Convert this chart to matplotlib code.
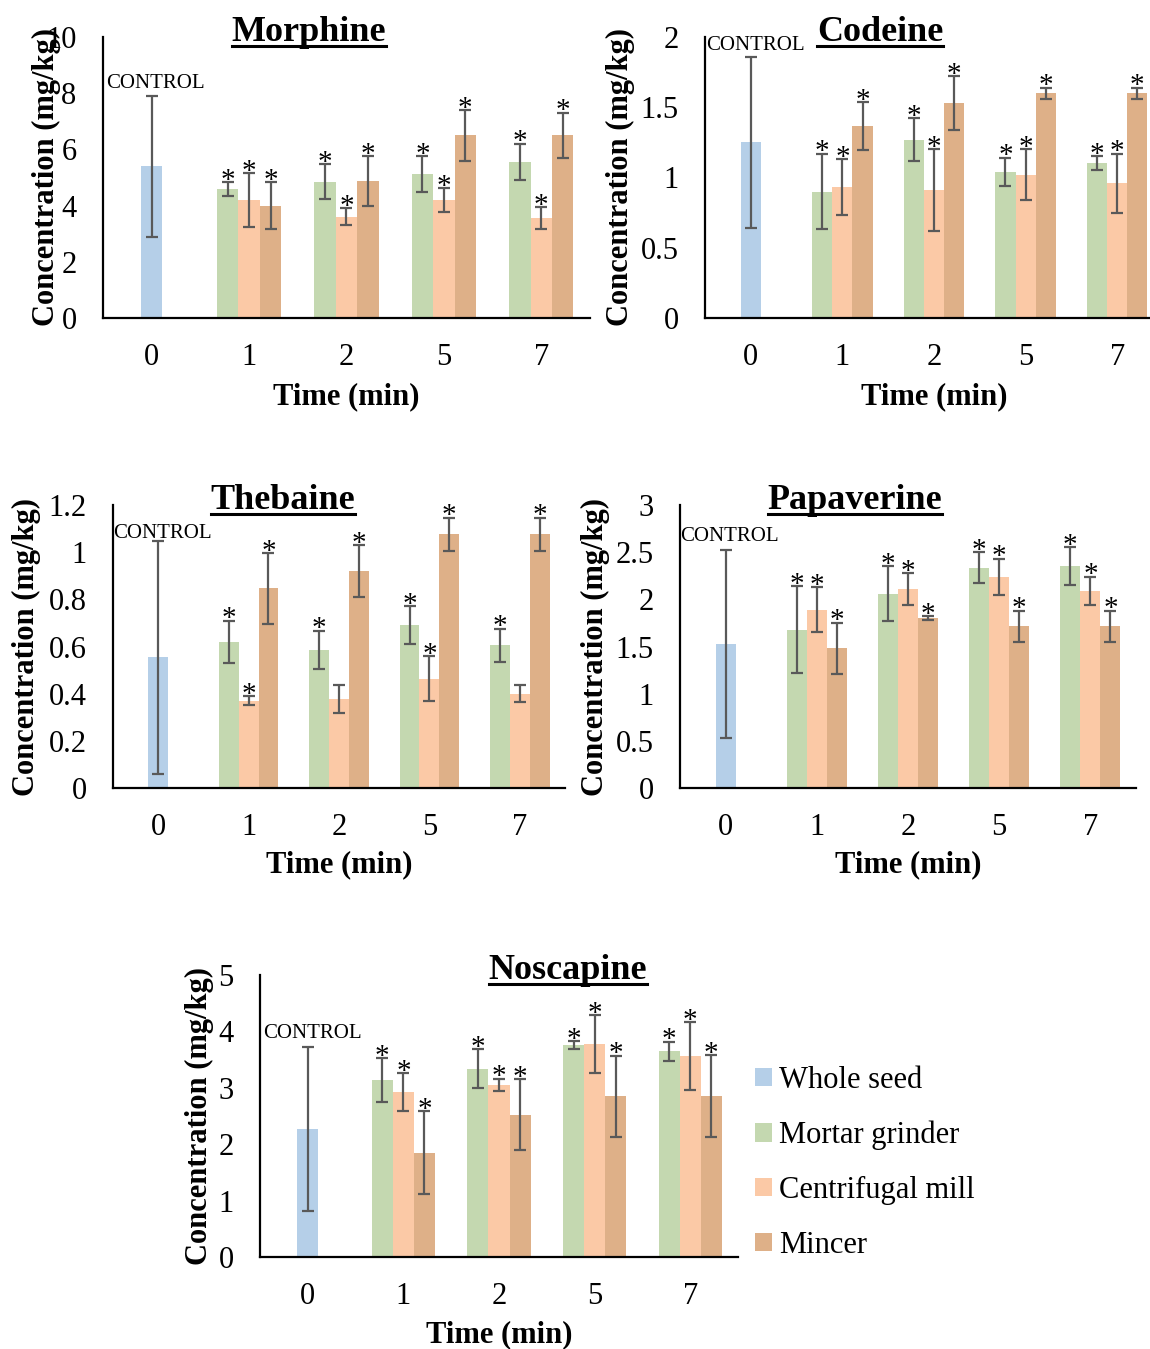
import numpy as np
import matplotlib.pyplot as plt
from matplotlib.patches import Patch
from matplotlib.lines import Line2D

plt.rcParams['font.family'] = ['Liberation Serif', 'DejaVu Serif']

# ---- data (mg/kg) ----
times = ["0", "1", "2", "5", "7"]
series = ["Whole seed", "Mortar grinder", "Centrifugal mill", "Mincer"]

morphine_control, morphine_control_err = 5.40, 2.50
morphine_mortar = [4.59, 4.85, 5.12, 5.56]
morphine_mortar_err = [0.25, 0.63, 0.64, 0.64]
morphine_centrifugal = [4.19, 3.61, 4.20, 3.55]
morphine_centrifugal_err = [0.96, 0.30, 0.41, 0.39]
morphine_mincer = [3.99, 4.88, 6.50, 6.50]
morphine_mincer_err = [0.84, 0.88, 0.90, 0.80]

codeine_control, codeine_control_err = 1.25, 0.61
codeine_mortar = [0.90, 1.27, 1.04, 1.10]
codeine_mortar_err = [0.27, 0.15, 0.10, 0.05]
codeine_centrifugal = [0.93, 0.91, 1.02, 0.96]
codeine_centrifugal_err = [0.20, 0.29, 0.18, 0.21]
codeine_mincer = [1.365, 1.53, 1.60, 1.60]
codeine_mincer_err = [0.17, 0.19, 0.04, 0.04]

thebaine_control, thebaine_control_err = 0.554, 0.495
thebaine_mortar = [0.620, 0.586, 0.690, 0.606]
thebaine_mortar_err = [0.09, 0.08, 0.08, 0.07]
thebaine_centrifugal = [0.370, 0.377, 0.463, 0.400]
thebaine_centrifugal_err = [0.02, 0.06, 0.095, 0.035]
thebaine_mincer = [0.846, 0.920, 1.076, 1.076]
thebaine_mincer_err = [0.15, 0.11, 0.07, 0.07]

papaverine_control, papaverine_control_err = 1.525, 1.00
papaverine_mortar = [1.68, 2.06, 2.335, 2.35]
papaverine_mortar_err = [0.46, 0.29, 0.165, 0.20]
papaverine_centrifugal = [1.89, 2.105, 2.24, 2.09]
papaverine_centrifugal_err = [0.24, 0.17, 0.19, 0.15]
papaverine_mincer = [1.48, 1.80, 1.715, 1.715]
papaverine_mincer_err = [0.27, 0.02, 0.165, 0.165]

noscapine_control, noscapine_control_err = 2.27, 1.46
noscapine_mortar = [3.13, 3.34, 3.76, 3.65]
noscapine_mortar_err = [0.39, 0.34, 0.07, 0.17]
noscapine_centrifugal = [2.92, 3.05, 3.78, 3.56]
noscapine_centrifugal_err = [0.34, 0.11, 0.51, 0.60]
noscapine_mincer = [1.85, 2.52, 2.85, 2.85]
noscapine_mincer_err = [0.73, 0.63, 0.72, 0.73]

# significance marks (mortar, centrifugal, mincer) x (1, 2, 5, 7 min)
all_stars = [[True] * 4, [True] * 4, [True] * 4]
thebaine_stars = [[True] * 4, [True, False, True, False], [True] * 4]

# ---- style ----
colors = ["#B5CFE8", "#C4D8B0", "#FBC9A6", "#DEB088"]
err_kw = dict(ecolor="#595959", elinewidth=1.6, capsize=4.5, capthick=1.6)
bw = 0.22

W, H = 1150, 1349
fig = plt.figure(figsize=(W / 100, H / 100), dpi=100)

titles = []


def panel(box, name, control, control_err, vals, errs, stars, ymax, ystep,
          title_x, control_y, ylabel_x, xlabel_y):
    l, t, r, b = box
    ax = fig.add_axes([l / W, 1 - b / H, (r - l) / W, (b - t) / H])
    x = np.arange(len(times))
    ax.bar(x[0], control, bw, color=colors[0], yerr=control_err, error_kw=err_kw)
    offs = [-bw, 0, bw]
    for k in range(3):
        ax.bar(x[1:] + offs[k], vals[k], bw, color=colors[k + 1], yerr=errs[k], error_kw=err_kw)
        for i in range(4):
            if stars[k][i]:
                ax.annotate("*", (x[i + 1] + offs[k], vals[k][i] + errs[k][i]),
                            xytext=(0, -4), textcoords="offset points",
                            ha="center", va="baseline", fontsize=21)
    ax.annotate("CONTROL", (0, control_y), xytext=(3, 0), textcoords="offset points",
                ha="center", va="center", fontsize=15)

    ax.set_xlim(-0.5, 4.5)
    ax.set_ylim(0, ymax)
    ticks = np.arange(0, ymax + ystep / 2, ystep)
    ax.set_yticks(ticks)
    ax.set_yticklabels(["{:g}".format(round(v, 2)) for v in ticks])
    ax.set_xticks(x)
    ax.set_xticklabels(times)
    ax.tick_params(length=0, labelsize=22)
    ax.tick_params(axis="y", pad=19)
    ax.tick_params(axis="x", pad=18)
    for s in ["top", "right"]:
        ax.spines[s].set_visible(False)
    for s in ["left", "bottom"]:
        ax.spines[s].set_linewidth(1.6)

    ax.set_ylabel("Concentration (mg/kg)", fontsize=22, fontweight="bold", va="center")
    ax.yaxis.set_label_coords((ylabel_x - l) / (r - l), 0.5)
    ax.set_xlabel("Time (min)", fontsize=22, fontweight="bold", va="center")
    ax.xaxis.set_label_coords(0.5, -(xlabel_y - b) / (b - t))

    tt = ax.text((title_x - l) / (r - l), 1 - 4 / (b - t), name, transform=ax.transAxes,
                 ha="center", va="baseline", fontsize=26, fontweight="bold")
    titles.append(tt)
    return ax


panel((103, 37, 590, 318), "Morphine", morphine_control, morphine_control_err,
      [morphine_mortar, morphine_centrifugal, morphine_mincer],
      [morphine_mortar_err, morphine_centrifugal_err, morphine_mincer_err],
      all_stars, 10, 2, 309, 8.33, 46, 397)

panel((705, 37, 1163, 318), "Codeine", codeine_control, codeine_control_err,
      [codeine_mortar, codeine_centrifugal, codeine_mincer],
      [codeine_mortar_err, codeine_centrifugal_err, codeine_mincer_err],
      all_stars, 2, 0.5, 880, 1.94, 620, 397)

panel((113, 505, 565, 788), "Thebaine", thebaine_control, thebaine_control_err,
      [thebaine_mortar, thebaine_centrifugal, thebaine_mincer],
      [thebaine_mortar_err, thebaine_centrifugal_err, thebaine_mincer_err],
      thebaine_stars, 1.2, 0.2, 283, 1.08, 26, 865)

panel((680, 505, 1136, 788), "Papaverine", papaverine_control, papaverine_control_err,
      [papaverine_mortar, papaverine_centrifugal, papaverine_mincer],
      [papaverine_mortar_err, papaverine_centrifugal_err, papaverine_mincer_err],
      all_stars, 3, 0.5, 855, 2.67, 595, 865)

panel((260, 975, 738, 1257), "Noscapine", noscapine_control, noscapine_control_err,
      [noscapine_mortar, noscapine_centrifugal, noscapine_mincer],
      [noscapine_mortar_err, noscapine_centrifugal_err, noscapine_mincer_err],
      all_stars, 5, 1, 568, 3.97, 199, 1335)

handles = [Patch(facecolor=c) for c in colors]
fig.legend(handles, series, loc="upper left", bbox_to_anchor=(755 / W, 1 - 1066 / H),
           frameon=False, fontsize=22, handlelength=0.55, handleheight=0.55,
           handletextpad=0.25, labelspacing=0.84, borderpad=0, borderaxespad=0)

# underline the panel titles
fig.canvas.draw()
renderer = fig.canvas.get_renderer()
for tt in titles:
    bb = tt.get_window_extent(renderer)
    base_y = tt.get_transform().transform(tt.get_position())[1]
    y = base_y - 5
    fig.add_artist(Line2D([bb.x0 / W, bb.x1 / W], [y / H, y / H], transform=fig.transFigure,
                          color="black", linewidth=2.2))

fig.savefig("out.png", dpi=100)
